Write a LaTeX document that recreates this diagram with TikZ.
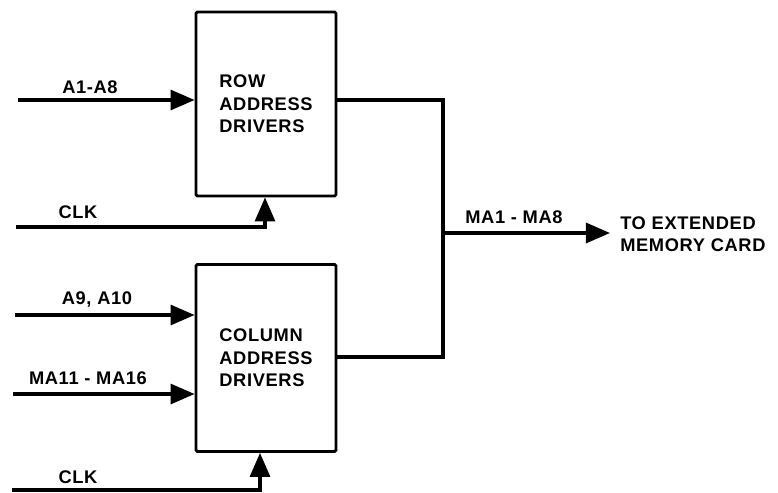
\documentclass[tikz,border=0pt]{standalone}
\usepackage{fontspec}
\setmainfont{Liberation Sans}
\newfontfamily\diagfont[LetterSpace=3.5]{Liberation Sans}
\usepackage{tikz}
\usetikzlibrary{arrows.meta,calc,positioning}

\begin{document}
\begin{tikzpicture}[
  x=0.025cm, y=-0.025cm,
  drv/.style={draw,line width=2pt,rounded corners=1pt,align=left,font=\diagfont\bfseries\fontsize{13}{16}\selectfont},
  lbl/.style={font=\diagfont\bfseries\fontsize{13}{16}\selectfont,inner sep=0pt},
  sig/.style={line width=2.2pt},
  arr/.style={-{Triangle[length=6mm,width=5mm]},line width=2.2pt}
]
  \useasboundingbox (0,0) rectangle (778,493);

  \node[drv,minimum width=3.5cm,minimum height=4.6cm] (row) at (266,104)
    {ROW\\ADDRESS\\DRIVERS};
  \node[drv,minimum width=3.5cm,minimum height=4.675cm] (col) at (266,358)
    {COLUMN\\ADDRESS\\DRIVERS};

  % inputs
  \coordinate (a1) at (18,100);
  \coordinate (clk1) at (16,227);
  \coordinate (a9) at (15,315);
  \coordinate (ma11) at (13,394);
  \coordinate (clk2) at (12,490);

  \draw[arr] (a1) -- (a1 -| row.west);
  \draw[arr] (clk1) -- (265,227) -- (265,0 |- row.south);
  \draw[arr] (a9) -- (a9 -| col.west);
  \draw[arr] (ma11) -- (ma11 -| col.west);
  \draw[arr] (clk2) -- (260,490) -- (260,0 |- col.south);

  \node[lbl] (la1) at (90,87) {A1-A8};
  \node[lbl] (lclk1) at (78,212) {CLK};
  \node[lbl] (la9) at (97,300) {A9, A10};
  \node[lbl] (lma11) at (88,378) {MA11 - MA16};
  \node[lbl] (lclk2) at (78,477) {CLK};

  % outputs
  \coordinate (bus) at (443,233);
  \draw[sig] (row.east |- 0,100) -- (443,100) -- (443,357) -- (col.east |- 0,357);
  \node[lbl,align=left,anchor=west] (card) at (620,234)
    {TO EXTENDED\\MEMORY CARD};
  \draw[arr] (bus) -- (610,233);
  \node[lbl] (lma1) at (514,217) {MA1 - MA8};
\end{tikzpicture}
\end{document}
